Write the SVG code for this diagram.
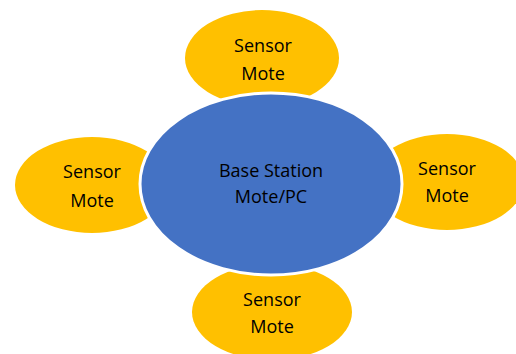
<svg xmlns="http://www.w3.org/2000/svg" width="516" height="354" viewBox="0 0 516 354">
<style>
.sensor{fill:#FFC000;}
.base{fill:#4472C4;stroke:#FFFFFF;stroke-width:3;}
text{font-family:"Open Sans","Noto Sans",sans-serif;font-size:18px;fill:#000000;text-anchor:middle;}
</style>
<rect width="516" height="354" fill="#FFFFFF"/>
<g id="connectors"></g>
<g id="sensor-top">
<ellipse class="sensor" cx="262" cy="58" rx="77" ry="48"/>
<text x="263" y="52">Sensor</text>
<text x="263" y="80">Mote</text>
</g>
<g id="sensor-left">
<ellipse class="sensor" cx="92" cy="185" rx="77" ry="48"/>
<text x="92" y="178">Sensor</text>
<text x="92" y="207">Mote</text>
</g>
<g id="sensor-right">
<ellipse class="sensor" cx="447" cy="182" rx="77" ry="48"/>
<text x="447" y="175">Sensor</text>
<text x="447" y="202">Mote</text>
</g>
<g id="sensor-bottom">
<ellipse class="sensor" cx="272" cy="312" rx="80" ry="48"/>
<text x="272" y="306">Sensor</text>
<text x="272" y="333">Mote</text>
</g>
<g id="base-station">
<ellipse class="base" cx="271" cy="184" rx="131" ry="91"/>
<text x="271" y="177">Base Station</text>
<text x="271" y="203">Mote/PC</text>
</g>
</svg>
